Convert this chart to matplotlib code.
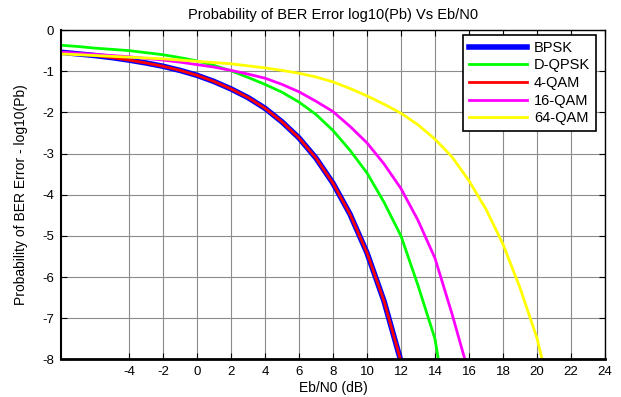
import matplotlib
matplotlib.use('Agg')
import matplotlib.pyplot as plt

plt.rcParams['font.family'] = ['Liberation Sans', 'DejaVu Sans']
plt.rcParams['axes.unicode_minus'] = False

# Eb/N0 (dB), sampled every 1 dB
snr = list(range(-8, 22))

# log10(Pb)
bpsk = [-0.54, -0.58, -0.62, -0.67, -0.73, -0.80, -0.88, -0.98, -1.10, -1.25,
        -1.43, -1.64, -1.90, -2.23, -2.62, -3.11, -3.72, -4.47, -5.41, -6.58,
        -8.05]
dqpsk = [-0.37, -0.40, -0.44, -0.47, -0.50, -0.55, -0.60, -0.67, -0.75, -0.86,
         -0.99, -1.15, -1.32, -1.51, -1.75, -2.05, -2.44, -2.92, -3.47, -4.18,
         -5.00, -6.20, -7.50, -10.0]
qam4 = list(bpsk)
qam16 = [-0.54, -0.565, -0.59, -0.62, -0.65, -0.69, -0.73, -0.78, -0.84, -0.90,
         -0.98, -1.07, -1.17, -1.32, -1.50, -1.73, -1.98, -2.34, -2.74, -3.25,
         -3.85, -4.62, -5.54, -6.89, -8.35]
qam64 = [-0.58, -0.60, -0.62, -0.64, -0.66, -0.68, -0.70, -0.73, -0.76, -0.79,
         -0.82, -0.87, -0.92, -0.98, -1.05, -1.14, -1.26, -1.42, -1.60, -1.80,
         -2.02, -2.30, -2.65, -3.08, -3.66, -4.35, -5.20, -6.26, -7.48, -9.20]

xticks = list(range(-4, 25, 2))
yticks = list(range(-8, 1))

fig = plt.figure(figsize=(6.21, 3.97), dpi=100)
ax = fig.add_axes([0.0982, 0.0945, 0.8760, 0.8299])

ax.plot(snr[:len(bpsk)], bpsk, color='#0000ff', lw=4, label='BPSK')
ax.plot(snr[:len(dqpsk)], dqpsk, color='#00ff00', lw=2, label='D-QPSK')
ax.plot(snr[:len(qam4)], qam4, color='#ff0000', lw=2, label='4-QAM')
ax.plot(snr[:len(qam16)], qam16, color='#ff00ff', lw=2, label='16-QAM')
ax.plot(snr[:len(qam64)], qam64, color='#ffff00', lw=2, label='64-QAM')

ax.set_xlim(-8, 24)
ax.set_ylim(-8, 0)
ax.set_xticks(xticks)
ax.set_yticks(yticks)
ax.grid(True, color='#8c8c8c', lw=0.8)
ax.set_axisbelow(True)
ax.tick_params(direction='in', top=True, right=True, labelsize=9.5, length=4, pad=5)
for s in ax.spines.values():
    s.set_linewidth(1.0)
ax.spines['bottom'].set_linewidth(2)
ax.spines['left'].set_linewidth(1.5)

ax.set_title('Probability of BER Error log10(Pb) Vs Eb/N0', fontsize=10.5, pad=8)
ax.set_xlabel('Eb/N0 (dB)', fontsize=10, labelpad=2)
ax.set_ylabel('Probability of BER Error - log10(Pb)', fontsize=10, labelpad=10)

leg = ax.legend(loc='upper right', bbox_to_anchor=(0.983, 0.985), borderaxespad=0,
                fontsize=10.5, handlelength=4.0, handletextpad=0.45, labelspacing=0.25,
                fancybox=False, framealpha=1, edgecolor='black', borderpad=0.4)
leg.get_frame().set_linewidth(1.2)

fig.savefig('out.png', dpi=100)
